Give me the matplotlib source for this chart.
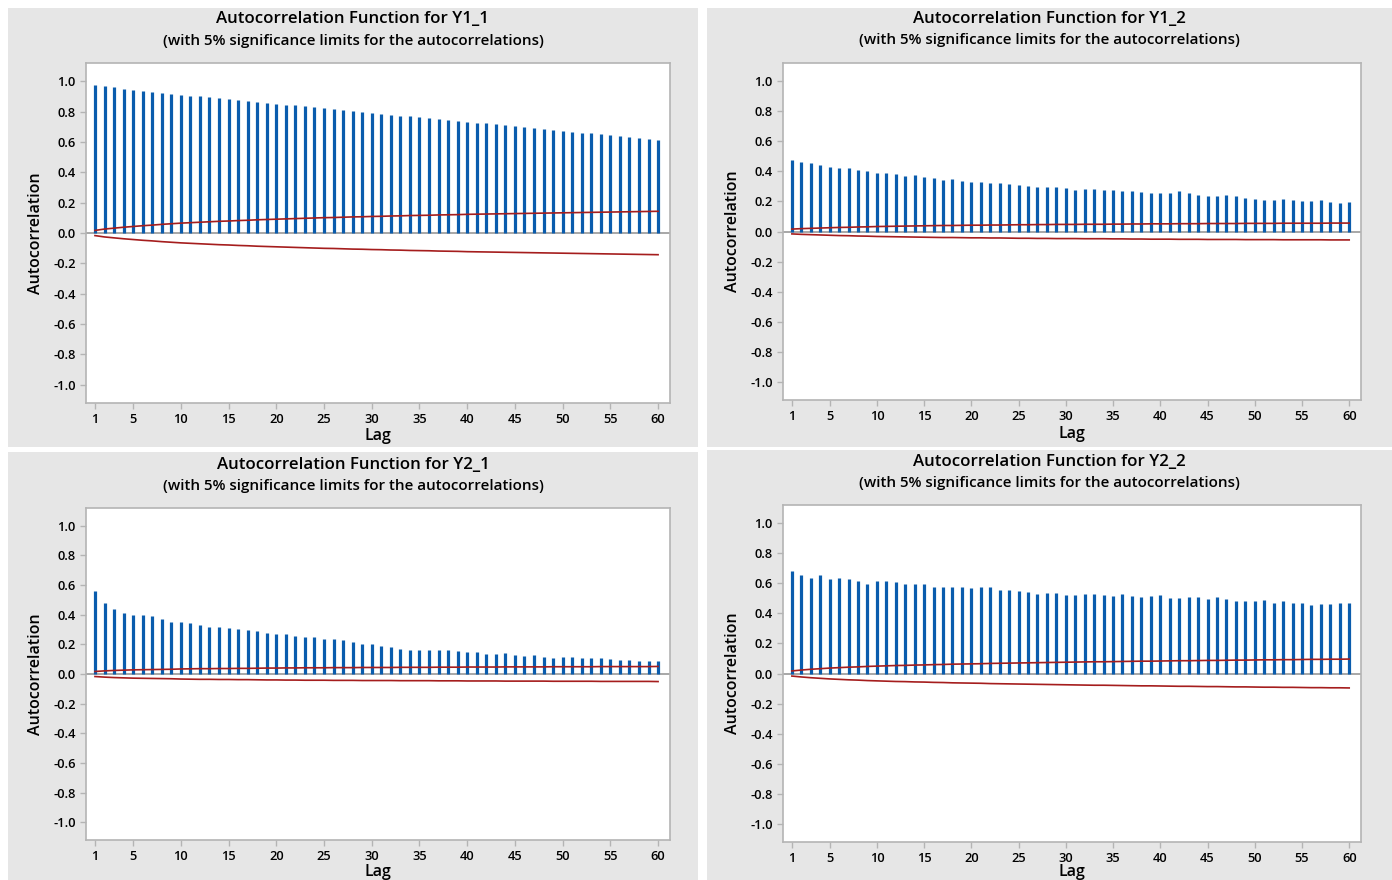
import numpy as np
import matplotlib
matplotlib.use("Agg")
import matplotlib.pyplot as plt
from matplotlib.patches import Rectangle

plt.rcParams["font.family"] = ["Open Sans", "DejaVu Sans"]
plt.rcParams["axes.unicode_minus"] = False

# data
lags = np.arange(1, 61)
series = ["Y1_1", "Y1_2", "Y2_1", "Y2_2"]

acf_y1_1 = [0.976, 0.969, 0.963, 0.949, 0.943, 0.936, 0.930, 0.923, 0.916, 0.910,
            0.903, 0.903, 0.896, 0.890, 0.883, 0.877, 0.870, 0.863, 0.857, 0.850,
            0.844, 0.844, 0.837, 0.830, 0.824, 0.817, 0.811, 0.804, 0.797, 0.791,
            0.784, 0.778, 0.771, 0.771, 0.764, 0.758, 0.751, 0.744, 0.738, 0.731,
            0.725, 0.725, 0.718, 0.711, 0.705, 0.698, 0.692, 0.685, 0.678, 0.672,
            0.665, 0.659, 0.659, 0.652, 0.645, 0.639, 0.632, 0.626, 0.619, 0.612]
acf_y1_2 = [0.474, 0.461, 0.455, 0.443, 0.430, 0.424, 0.424, 0.410, 0.404, 0.390,
            0.390, 0.384, 0.370, 0.377, 0.364, 0.357, 0.344, 0.350, 0.337, 0.330,
            0.330, 0.324, 0.324, 0.317, 0.310, 0.304, 0.297, 0.297, 0.297, 0.290,
            0.277, 0.284, 0.284, 0.277, 0.277, 0.271, 0.271, 0.264, 0.257, 0.257,
            0.257, 0.271, 0.257, 0.244, 0.237, 0.237, 0.244, 0.237, 0.224, 0.217,
            0.211, 0.211, 0.217, 0.211, 0.204, 0.204, 0.211, 0.197, 0.191, 0.197]
acf_y2_1 = [0.560, 0.481, 0.440, 0.413, 0.396, 0.396, 0.389, 0.369, 0.348, 0.348,
            0.342, 0.328, 0.317, 0.317, 0.310, 0.303, 0.297, 0.290, 0.276, 0.270,
            0.270, 0.256, 0.249, 0.249, 0.236, 0.236, 0.229, 0.216, 0.202, 0.202,
            0.189, 0.182, 0.169, 0.162, 0.162, 0.162, 0.162, 0.162, 0.155, 0.148,
            0.148, 0.135, 0.135, 0.142, 0.128, 0.121, 0.128, 0.115, 0.108, 0.115,
            0.115, 0.108, 0.108, 0.108, 0.101, 0.094, 0.094, 0.088, 0.088, 0.088]
acf_y2_2 = [0.679, 0.658, 0.638, 0.652, 0.625, 0.632, 0.625, 0.612, 0.592, 0.612,
            0.618, 0.605, 0.592, 0.598, 0.598, 0.578, 0.578, 0.578, 0.578, 0.565,
            0.578, 0.578, 0.558, 0.558, 0.551, 0.545, 0.531, 0.538, 0.538, 0.520,
            0.520, 0.527, 0.527, 0.520, 0.513, 0.527, 0.513, 0.507, 0.513, 0.520,
            0.500, 0.500, 0.507, 0.507, 0.493, 0.507, 0.493, 0.480, 0.480, 0.480,
            0.487, 0.467, 0.480, 0.467, 0.467, 0.453, 0.460, 0.460, 0.467, 0.467]

# 5% significance limits (magnitude, drawn at +/-)
lim_y1_1 = [0.017, 0.026, 0.032, 0.038, 0.043, 0.048, 0.052, 0.057, 0.061, 0.065,
            0.068, 0.071, 0.074, 0.077, 0.079, 0.082, 0.084, 0.087, 0.089, 0.091,
            0.093, 0.095, 0.097, 0.099, 0.101, 0.102, 0.104, 0.106, 0.107, 0.109,
            0.110, 0.112, 0.113, 0.115, 0.116, 0.117, 0.119, 0.120, 0.121, 0.123,
            0.124, 0.125, 0.126, 0.127, 0.128, 0.129, 0.130, 0.131, 0.132, 0.133,
            0.134, 0.135, 0.136, 0.137, 0.138, 0.139, 0.140, 0.141, 0.142, 0.143]
lim_y1_2 = [0.016, 0.019, 0.021, 0.023, 0.025, 0.027, 0.028, 0.030, 0.031, 0.033,
            0.034, 0.035, 0.036, 0.037, 0.038, 0.039, 0.040, 0.040, 0.041, 0.042,
            0.042, 0.043, 0.043, 0.044, 0.045, 0.045, 0.046, 0.046, 0.047, 0.047,
            0.047, 0.048, 0.048, 0.048, 0.049, 0.049, 0.050, 0.050, 0.051, 0.051,
            0.051, 0.052, 0.052, 0.052, 0.053, 0.053, 0.053, 0.053, 0.054, 0.054,
            0.054, 0.054, 0.055, 0.055, 0.055, 0.055, 0.055, 0.056, 0.056, 0.056]
lim_y2_1 = [0.017, 0.021, 0.024, 0.026, 0.028, 0.029, 0.030, 0.031, 0.032, 0.034,
            0.035, 0.036, 0.036, 0.037, 0.037, 0.038, 0.038, 0.039, 0.040, 0.040,
            0.041, 0.041, 0.042, 0.042, 0.042, 0.043, 0.043, 0.043, 0.044, 0.044,
            0.044, 0.044, 0.045, 0.045, 0.045, 0.045, 0.046, 0.046, 0.046, 0.047,
            0.047, 0.047, 0.047, 0.048, 0.048, 0.048, 0.048, 0.048, 0.049, 0.049,
            0.049, 0.049, 0.049, 0.050, 0.050, 0.050, 0.050, 0.050, 0.050, 0.051]
lim_y2_2 = [0.017, 0.023, 0.028, 0.032, 0.036, 0.039, 0.042, 0.044, 0.047, 0.049,
            0.051, 0.053, 0.054, 0.056, 0.057, 0.059, 0.060, 0.062, 0.063, 0.064,
            0.065, 0.067, 0.068, 0.069, 0.070, 0.071, 0.072, 0.073, 0.074, 0.075,
            0.076, 0.077, 0.078, 0.078, 0.079, 0.080, 0.081, 0.082, 0.082, 0.083,
            0.084, 0.085, 0.085, 0.086, 0.087, 0.087, 0.088, 0.089, 0.089, 0.090,
            0.091, 0.091, 0.092, 0.092, 0.093, 0.094, 0.094, 0.095, 0.095, 0.096]

acfs = [acf_y1_1, acf_y1_2, acf_y2_1, acf_y2_2]
lims = [lim_y1_1, lim_y1_2, lim_y2_1, lim_y2_2]

yticks = np.round(np.arange(-1.0, 1.01, 0.2), 1)
ytick_labels = ["1.0", "0.8", "0.6", "0.4", "0.2", "0.0",
                "-0.2", "-0.4", "-0.6", "-0.8", "-1.0"][::-1]
xticks = [1, 5, 10, 15, 20, 25, 30, 35, 40, 45, 50, 55, 60]

# layout in pixels: panel background, plot box, title y, "Lag" y, ylabel x
W, H = 1392, 880
panels = [
    dict(bg=(8, 8, 698, 447), box=(86, 63, 670, 403), ty=19, sy=41, ly=436, yx=36),
    dict(bg=(707, 8, 1392, 447), box=(783, 63, 1361, 400), ty=19, sy=40, ly=434, yx=733),
    dict(bg=(8, 452, 698, 880), box=(86, 508, 670, 840), ty=465, sy=486, ly=872, yx=36),
    dict(bg=(707, 450, 1392, 880), box=(783, 505, 1361, 842), ty=462, sy=483, ly=872, yx=733),
]

bar_blue = "#0a5cad"
lim_red = "#a51d1d"
frame_grey = "#b4b4b4"

fig = plt.figure(figsize=(W / 100, H / 100), dpi=100)
fig.patch.set_facecolor("white")

for name, acf, lim, p in zip(series, acfs, lims, panels):
    x0, y0, x1, y1 = p["bg"]
    fig.patches.append(Rectangle((x0 / W, 1 - y1 / H), (x1 - x0) / W, (y1 - y0) / H,
                                 transform=fig.transFigure, facecolor="#e6e6e6",
                                 edgecolor="none", zorder=-5))
    bx0, by0, bx1, by1 = p["box"]
    ax = fig.add_axes([bx0 / W, 1 - by1 / H, (bx1 - bx0) / W, (by1 - by0) / H])
    ax.set_zorder(2)
    ax.set_facecolor("white")
    lim = np.array(lim)
    ax.axhline(0, color="#a0a0a0", lw=1.3, zorder=1)
    ax.vlines(lags, 0, acf, colors=bar_blue, lw=2.3, zorder=2)
    ax.plot(lags, lim, color=lim_red, lw=1.2, zorder=3)
    ax.plot(lags, -lim, color=lim_red, lw=1.2, zorder=3)
    ax.set_xlim(0.06, 61.25)
    ax.set_ylim(-1.12, 1.12)
    ax.set_xticks(xticks)
    ax.set_yticks(yticks)
    ax.set_yticklabels(ytick_labels)
    ax.tick_params(colors=frame_grey, labelcolor="black", length=4, width=1,
                   labelsize=9.3)
    for lab in ax.get_xticklabels() + ax.get_yticklabels():
        lab.set_fontweight("semibold")
    for s in ax.spines.values():
        s.set_color(frame_grey)
        s.set_linewidth(1.2)
    cx = (x0 + x1) / 2 / W
    fig.text(cx, 1 - p["ty"] / H, "Autocorrelation Function for " + name,
             ha="center", va="center", fontsize=12.2, fontweight="semibold")
    fig.text(cx, 1 - p["sy"] / H, "(with 5% significance limits for the autocorrelations)",
             ha="center", va="center", fontsize=10.9, fontweight="semibold")
    fig.text((bx0 + bx1) / 2 / W, 1 - p["ly"] / H, "Lag", ha="center", va="center",
             fontsize=11.5, fontweight="semibold")
    fig.text(p["yx"] / W, 1 - (by0 + by1) / 2 / H, "Autocorrelation", rotation=90,
             ha="center", va="center", fontsize=11.5, fontweight="semibold")

fig.savefig("out.png", dpi=100)
